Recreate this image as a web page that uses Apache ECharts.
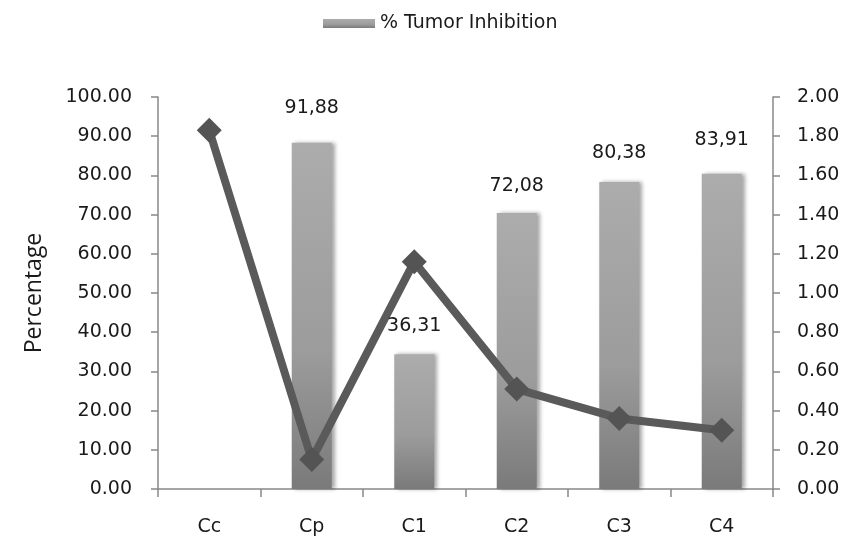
<!DOCTYPE html>
<html>
<head>
<meta charset="utf-8">
<script src="https://cdn.jsdelivr.net/npm/echarts@6/dist/echarts.min.js"></script>
<style>
  html, body { margin: 0; padding: 0; background: #fff; }
  #chart { width: 851px; height: 542px; }
</style>
</head>
<body>
<div id="chart"></div>
<script>
var categories = ['Cc', 'Cp', 'C1', 'C2', 'C3', 'C4'];
// bar heights as drawn (left axis)
var barValues = [null, 88.3, 34.4, 70.4, 78.3, 80.4];
// value labels written above bars
var labelValues = [null, 91.88, 36.31, 72.08, 80.38, 83.91];
var labelTexts = ['', '91,88', '36,31', '72,08', '80,38', '83,91'];
// line values (right axis)
var lineValues = [1.83, 0.15, 1.16, 0.51, 0.36, 0.30];

var chartDom = document.getElementById('chart');
var myChart = echarts.init(chartDom);
var option;

var tickFont = 'DejaVu Sans';
var textColor = '#1a1a1a';

option = {
  animation: false,
  backgroundColor: '#fff',
  legend: {
    data: ['% Tumor Inhibition'],
    top: 9,
    left: 318,
    icon: 'rect',
    itemWidth: 52,
    itemHeight: 9,
    itemGap: 6,
    textStyle: { fontFamily: tickFont, fontSize: 19, color: textColor }
  },
  grid: {
    left: 158,
    right: 78,
    top: 97,
    bottom: 53
  },
  xAxis: {
    type: 'category',
    data: categories,
    axisLine: { lineStyle: { color: '#888', width: 1.5 } },
    axisTick: { show: true, length: 8, lineStyle: { color: '#888', width: 1.5 } },
    axisLabel: { margin: 29, fontFamily: tickFont, fontSize: 19, color: textColor }
  },
  yAxis: [
    {
      type: 'value',
      min: 0,
      max: 100,
      interval: 10,
      name: 'Percentage',
      nameLocation: 'middle',
      nameGap: 112,
      nameTextStyle: { fontFamily: 'Open Sans', fontSize: 23, color: textColor },
      axisLine: { show: true, lineStyle: { color: '#888', width: 1.5 } },
      axisTick: { show: true, length: 7, lineStyle: { color: '#888', width: 1.5 } },
      splitLine: { show: false },
      axisLabel: {
        margin: 26,
        fontFamily: tickFont,
        fontSize: 19,
        color: textColor,
        formatter: function (v) { return v.toFixed(2); }
      }
    },
    {
      type: 'value',
      min: 0,
      max: 2,
      interval: 0.2,
      position: 'right',
      axisLine: { show: true, lineStyle: { color: '#888', width: 1.5 } },
      axisTick: { show: true, length: 7, lineStyle: { color: '#888', width: 1.5 } },
      splitLine: { show: false },
      axisLabel: {
        margin: 24,
        fontFamily: tickFont,
        fontSize: 19,
        color: textColor,
        formatter: function (v) { return v.toFixed(2); }
      }
    }
  ],
  series: [
    {
      name: '% Tumor Inhibition',
      type: 'bar',
      yAxisIndex: 0,
      barWidth: 40,
      data: barValues,
      itemStyle: {
        color: new echarts.graphic.LinearGradient(0, 0, 0, 1, [
          { offset: 0, color: '#acacac' },
          { offset: 0.6, color: '#9c9c9c' },
          { offset: 1, color: '#7a7a7a' }
        ]),
        shadowColor: 'rgba(0,0,0,0.35)',
        shadowBlur: 4,
        shadowOffsetX: 3
      }
    },
    {
      name: 'labels',
      type: 'scatter',
      yAxisIndex: 0,
      symbolSize: 0,
      silent: true,
      data: labelValues,
      itemStyle: { opacity: 1 },
      label: {
        show: true,
        position: 'top',
        distance: 11,
        fontFamily: tickFont,
        fontSize: 19,
        color: textColor,
        opacity: 1,
        formatter: function (p) { return labelTexts[p.dataIndex]; }
      },
      z: 5
    },
    {
      name: 'line',
      type: 'line',
      yAxisIndex: 1,
      data: lineValues,
      symbol: 'diamond',
      symbolSize: [25, 25],
      lineStyle: { color: '#5a5a5a', width: 8 },
      itemStyle: { color: '#545454' },
      z: 4
    }
  ]
};

option && myChart.setOption(option);
</script>
</body>
</html>
